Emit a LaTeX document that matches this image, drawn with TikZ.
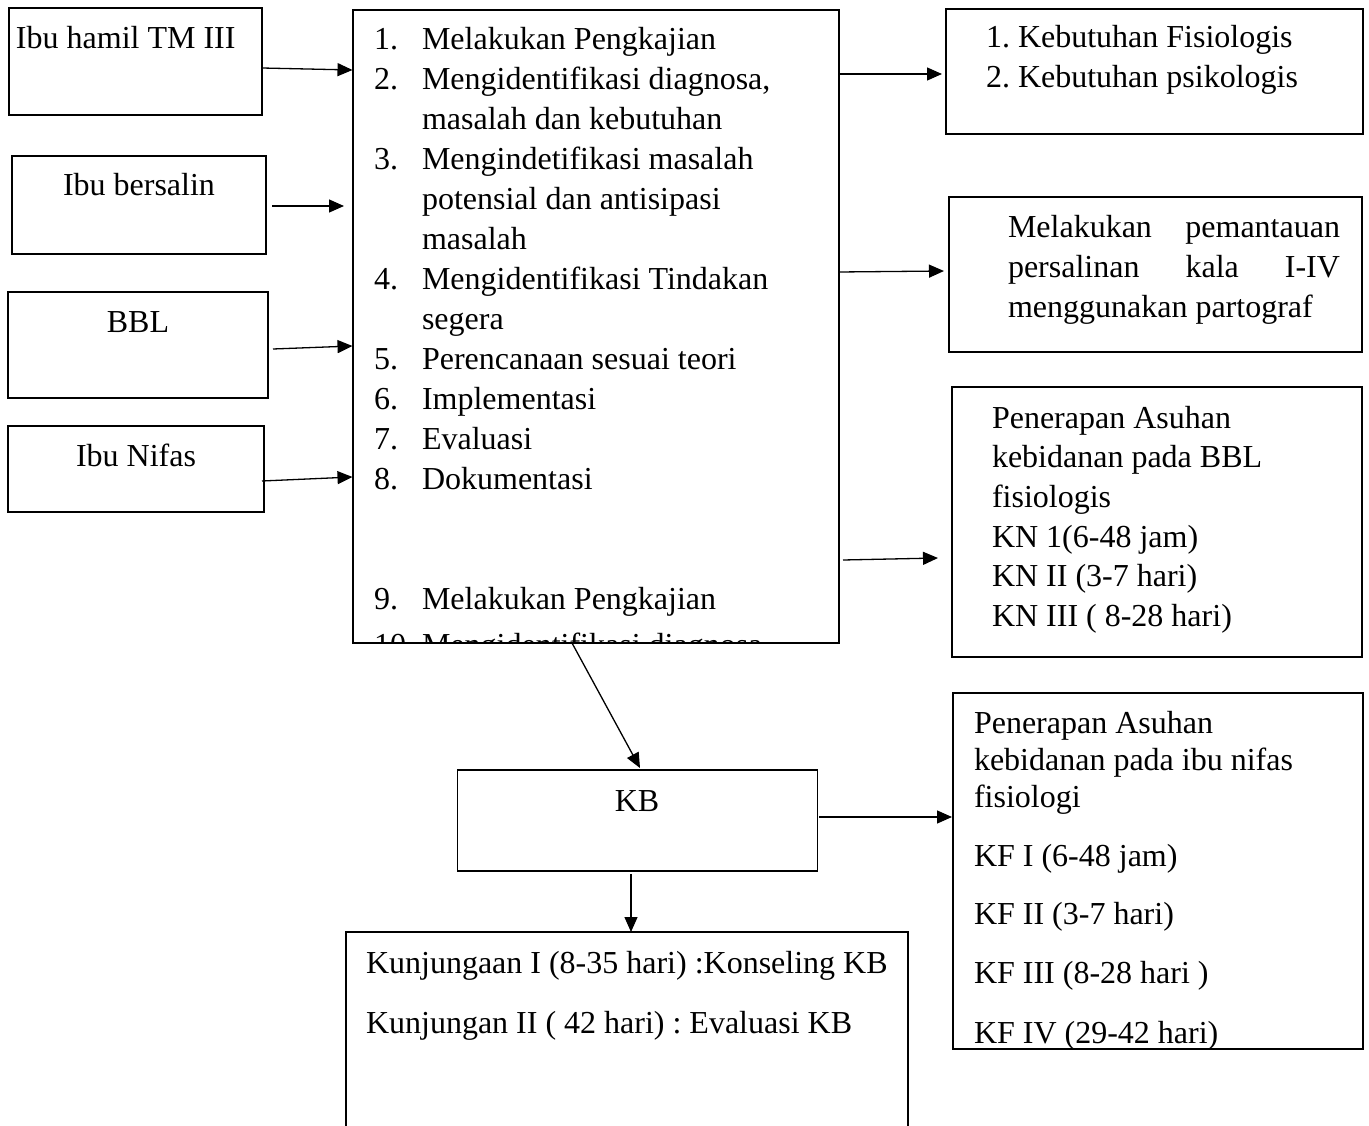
\documentclass[tikz,border=0pt]{standalone}
\usepackage{fontspec}
\setmainfont{Liberation Serif}
\usetikzlibrary{arrows.meta}
\frenchspacing
\newcommand\fsz{\fontsize{32}{39.93}\selectfont}
\begin{document}
\begin{tikzpicture}[x=1pt,y=-1pt,
  box/.style={draw, line width=2pt, rectangle, anchor=north west, inner sep=0pt, outer sep=0pt},
  thinbox/.style={box, line width=1.5pt},
  txt/.style={anchor=base west, inner sep=0pt, outer sep=0pt, font=\fsz},
  ctxt/.style={txt, anchor=base},
  arr/.style={line width=1.3pt, -{Triangle[length=15pt,width=13pt]}}]
\useasboundingbox (0,0) rectangle (1369,1126);
\fill[white] (0,0) rectangle (1369,1126);
\begin{scope}
\clip (0,0) rectangle (1369,1126);
% ---------- boxes ----------
\node[box, minimum width=253pt, minimum height=107pt] (hamil) at (9,8) {};
\node[box, minimum width=254pt, minimum height=98pt] (bersalin) at (12,156) {};
\node[box, minimum width=260pt, minimum height=106pt] (bbl) at (8,292) {};
\node[box, minimum width=256pt, minimum height=86pt] (nifas) at (8,426) {};
\node[box, minimum width=486pt, minimum height=633pt] (main) at (352.5,10) {};
\node[box, minimum width=417pt, minimum height=125pt] (r1) at (946,9) {};
\node[box, minimum width=413.5pt, minimum height=155pt] (r2) at (948.5,197) {};
\node[box, minimum width=410pt, minimum height=270pt] (r3) at (952,387) {};
\node[box, minimum width=410pt, minimum height=356pt] (r4) at (953,693) {};
\node[thinbox, minimum width=360pt, minimum height=101pt] (kb) at (457.5,770) {};
\node[thinbox, minimum width=562pt, minimum height=250pt] (bot) at (346,932) {};
% ---------- left texts ----------
\node[txt] (thamil) at (16,49) {Ibu hamil TM III};
\node[ctxt] (tbersalin) at (139,196) {Ibu bersalin};
\node[ctxt] (tbbl) at (138,332) {BBL};
\node[ctxt] (tnifas) at (136,466) {Ibu Nifas};
% ---------- main list ----------
\begin{scope}
\clip (main.north west) rectangle (main.south east);
\node[txt] (m1n) at (374,50) {1.};
\node[txt] (m1t) at (422,50) {Melakukan Pengkajian};
\node[txt] (m2n) at (374,89.9) {2.};
\node[txt] (m2t) at (422,89.9) {Mengidentifikasi diagnosa,};
\node[txt] (m2u) at (422,129.9) {masalah dan kebutuhan};
\node[txt] (m3n) at (374,169.8) {3.};
\node[txt] (m3t) at (422,169.8) {Mengindetifikasi masalah};
\node[txt] (m3u) at (422,209.7) {potensial dan antisipasi};
\node[txt] (m3v) at (422,249.7) {masalah};
\node[txt] (m4n) at (374,289.6) {4.};
\node[txt] (m4t) at (422,289.6) {Mengidentifikasi Tindakan};
\node[txt] (m4u) at (422,329.5) {segera};
\node[txt] (m5n) at (374,369.4) {5.};
\node[txt] (m5t) at (422,369.4) {Perencanaan sesuai teori};
\node[txt] (m6n) at (374,409.4) {6.};
\node[txt] (m6t) at (422,409.4) {Implementasi};
\node[txt] (m7n) at (374,449.3) {7.};
\node[txt] (m7t) at (422,449.3) {Evaluasi};
\node[txt] (m8n) at (374,489.2) {8.};
\node[txt] (m8t) at (422,489.2) {Dokumentasi};
\node[txt] (m9n) at (374,609) {9.};
\node[txt] (m9t) at (422,609) {Melakukan Pengkajian};
\node[txt] (m10n) at (374,655) {10.};
\node[txt] (m10t) at (422,655) {Mengidentifikasi diagnosa};
\end{scope}
% ---------- right texts ----------
\node[txt] (r1a) at (986,48) {1. Kebutuhan Fisiologis};
\node[txt] (r1b) at (986,88) {2. Kebutuhan psikologis};
\node[txt] (r2a) at (1008,238) {\makebox[332pt][s]{Melakukan\hfill pemantauan}};
\node[txt] (r2b) at (1008,278) {\makebox[332pt][s]{persalinan\hfill kala\hfill I-IV}};
\node[txt] (r2c) at (1008,317) {menggunakan partograf};
\node[txt] (r3a) at (992,428) {Penerapan Asuhan};
\node[txt] (r3b) at (992,467.7) {kebidanan pada BBL};
\node[txt] (r3c) at (992,507.4) {fisiologis};
\node[txt] (r3d) at (992,547.1) {KN 1(6-48 jam)};
\node[txt] (r3e) at (992,586.8) {KN II (3-7 hari)};
\node[txt] (r3f) at (992,626.5) {KN III ( 8-28 hari)};
\begin{scope}
\clip (r4.north west) rectangle (r4.south east);
\node[txt] (r4a) at (974,733) {Penerapan Asuhan};
\node[txt] (r4b) at (974,770) {kebidanan pada ibu nifas};
\node[txt] (r4c) at (974,807) {fisiologi};
\node[txt] (r4d) at (974,866) {KF I (6-48 jam)};
\node[txt] (r4e) at (974,924.5) {KF II (3-7 hari)};
\node[txt] (r4f) at (974,983) {KF III (8-28 hari )};
\node[txt] (r4g) at (974,1043) {KF IV (29-42 hari)};
\end{scope}
% ---------- KB and bottom ----------
\node[ctxt] (tkb) at (637,811) {KB};
\node[txt] (bota) at (366,973) {Kunjungaan I (8-35 hari) :Konseling KB};
\node[txt] (botb) at (366,1033) {Kunjungan II ( 42 hari) : Evaluasi KB};
% ---------- connectors ----------
\draw[arr] ([yshift=-60pt]hamil.north east) -- ([yshift=-60pt]main.north west);
\draw[arr] ([xshift=6pt,yshift=-50pt]bersalin.north east) -- ([xshift=-8.5pt,yshift=-196pt]main.north west);
\draw[arr] ([xshift=5pt,yshift=-57pt]bbl.north east) -- ([yshift=-336pt]main.north west);
\draw[arr] ([xshift=-2pt,yshift=-55pt]nifas.north east) -- ([yshift=-467pt]main.north west);
\draw[arr] ([yshift=-64pt]main.north east) -- ([xshift=-4pt,yshift=-65pt]r1.north west);
\draw[arr] ([yshift=-262pt]main.north east) -- ([xshift=-4.5pt,yshift=-74pt]r2.north west);
\draw[arr] ([xshift=4.5pt,yshift=-550pt]main.north east) -- ([xshift=-14pt,yshift=-171pt]r3.north west);
\draw[arr] ([xshift=219.5pt]main.south west) -- ([xshift=182.5pt,yshift=2pt]kb.north west);
\draw[arr] ([xshift=1.5pt,yshift=-47pt]kb.north east) -- ([xshift=-1pt,yshift=-124pt]r4.north west);
\draw[arr] ([xshift=173.5pt,yshift=-3pt]kb.south west) -- ([xshift=285pt]bot.north west);
\end{scope}
\end{tikzpicture}
\end{document}
